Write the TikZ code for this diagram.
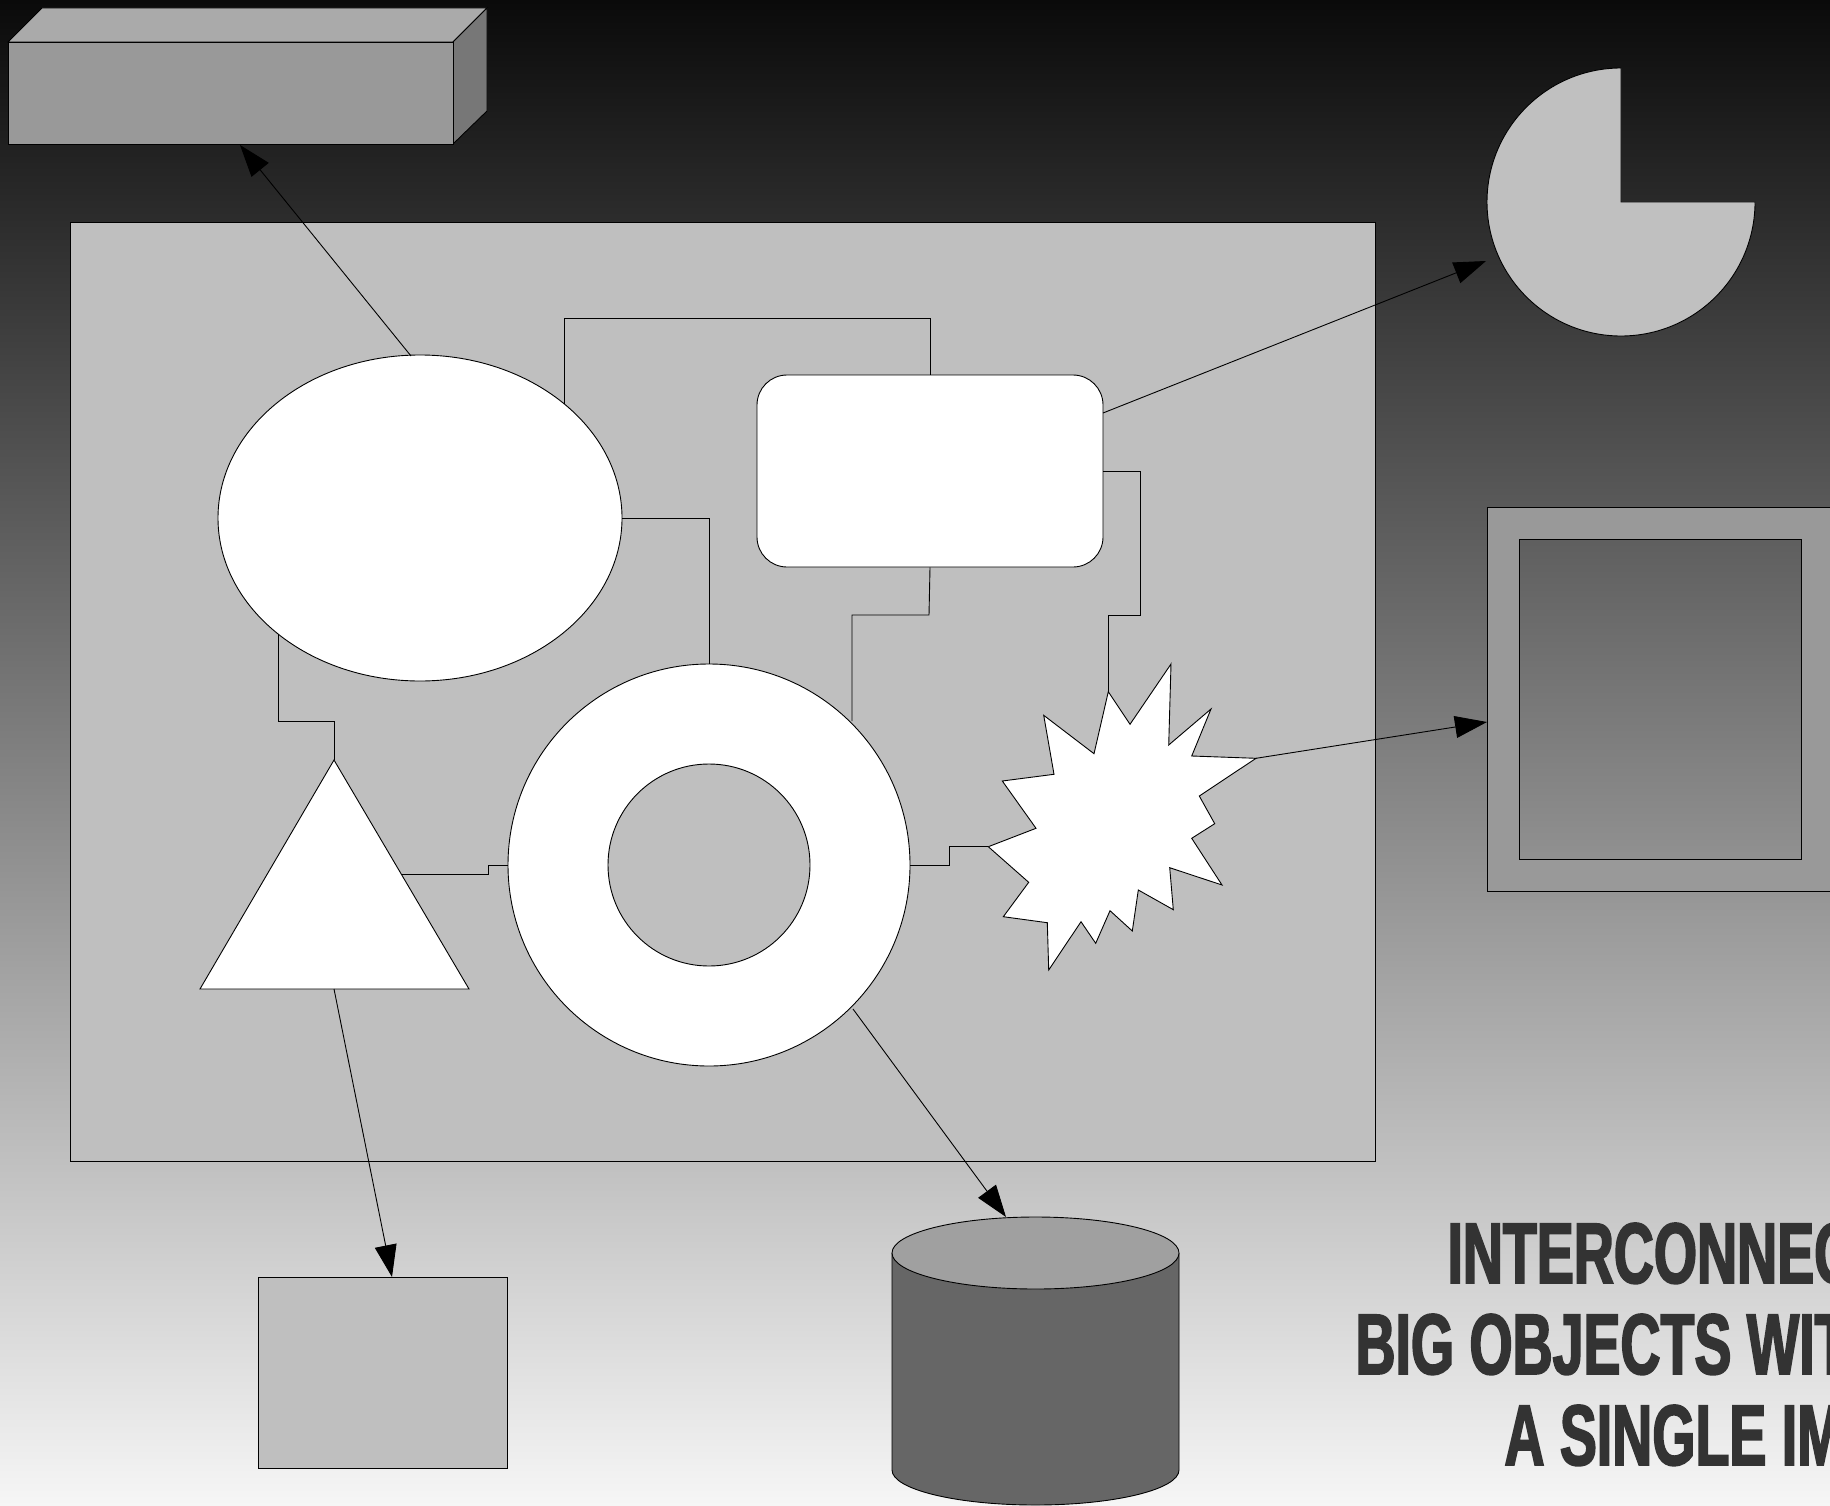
\documentclass[tikz,border=0pt]{standalone}
\usepackage{fontspec}
\usetikzlibrary{arrows.meta,shapes.geometric}
\newfontfamily\impactfont{Liberation Sans}[FakeStretch=0.645,FakeBold=2]
\definecolor{bgtop}{RGB}{10,10,10}
\definecolor{bgbot}{RGB}{246,246,246}
\definecolor{panel}{RGB}{191,191,191}
\definecolor{boxfront}{RGB}{153,153,153}
\definecolor{boxtop}{RGB}{170,170,170}
\definecolor{boxside}{RGB}{119,119,119}
\definecolor{piefill}{RGB}{192,192,192}
\definecolor{framefill}{RGB}{153,153,153}
\definecolor{cyltop}{RGB}{160,160,160}
\definecolor{cylbody}{RGB}{102,102,102}
\definecolor{textdark}{RGB}{51,51,51}
\begin{document}
\begin{tikzpicture}[x=1pt,y=-1pt,line width=0.9pt,
  shapeline/.style={draw=black,line width=0.9pt},
  wire/.style={draw=black,line width=0.9pt},
  arrowwire/.style={draw=black,line width=0.9pt,-{Triangle[length=32pt,width=22pt]}},
  headline/.style={anchor=base west,inner sep=0pt,text=textdark,font=\impactfont\bfseries\fontsize{86}{91}\selectfont}]
\useasboundingbox (0,0) rectangle (1830,1506);
\shade[top color=bgtop,bottom color=bgbot] (0,0) rectangle (1830,1506);

% 3D box
\draw[shapeline,fill=boxtop] (8,42) -- (42,8) -- (487,8) -- (453,42) -- cycle;
\draw[shapeline,fill=boxside] (453,42) -- (487,8) -- (487,111) -- (453,144) -- cycle;
\node[shapeline,fill=boxfront,minimum width=445pt,minimum height=102pt,inner sep=0pt] (box3d) at (230.5,93) {};

% pie
\draw[shapeline,fill=piefill] (1621,202) coordinate (piec) -- ++(134,0) arc[start angle=0,end angle=270,radius=134] -- cycle;
\coordinate (pieIn) at (1486,261);

% frame
\draw[shapeline,fill=framefill,even odd rule] (1487,507) rectangle (1833,891) (1519,539) rectangle (1801,859);
\coordinate (frameIn) at (1487,722);

% main panel
\node[shapeline,fill=panel,minimum width=1305pt,minimum height=939pt,inner sep=0pt] (panel) at (722.5,691.5) {};

% shapes inside the panel
\node[shapeline,fill=white,ellipse,minimum width=404pt,minimum height=326pt,inner sep=0pt] (el) at (420,518) {};
\node[shapeline,fill=white,rounded corners=30pt,minimum width=346pt,minimum height=192pt,inner sep=0pt] (rr) at (930,471) {};
\node[shapeline,fill=white,circle,minimum size=402pt,inner sep=0pt] (ring) at (709,865) {};
\node[shapeline,fill=panel,circle,minimum size=202pt,inner sep=0pt] (hole) at (709,865) {};
\draw[shapeline,fill=white] (334,760) coordinate (tritop) -- (469,989) -- (200,989) -- cycle;
\coordinate (tribot) at (334,989);
\coordinate (triside) at (401,874);
\draw[shapeline,fill=white]
  (1108.3,691.7) coordinate (bursttop) -- (1130,724.3) -- (1171,664) -- (1168.7,745) -- (1211,709) -- (1191.7,756)
  -- (1256,758.3) coordinate (burstright) -- (1199.3,796) -- (1214.7,823.7) -- (1191.7,838.3) -- (1222,885)
  -- (1169.7,867.7) -- (1173.3,909.7) -- (1138.3,890) -- (1132.3,931) -- (1110,910.7) -- (1095.7,943.3)
  -- (1081,921.7) -- (1048.7,970) -- (1047.3,922.7) -- (1003.3,916.7) -- (1028.7,882.3)
  -- (988.3,846.7) coordinate (burstleft) -- (1036,828.3) -- (1002.3,781) -- (1054,774.3) -- (1043.7,715.3)
  -- (1094,753.7) -- cycle;

% bottom shapes
\node[shapeline,fill=panel,minimum width=249pt,minimum height=191pt,inner sep=0pt] (rectb) at (382.5,1372.5) {};
\draw[shapeline,fill=cylbody] (892,1253) -- (892,1470) arc[start angle=180,end angle=0,x radius=143.5,y radius=35] -- (1179,1253);
\node[shapeline,fill=cyltop,ellipse,minimum width=287pt,minimum height=72pt,inner sep=0pt] (cyl) at (1035.5,1253) {};

% elbow connectors
\coordinate (elA) at (564,404);
\coordinate (elB) at (278,634);
\coordinate (ringNE) at (852,721);
\draw[wire] (elA) -- (564,318) -| (rr.north);
\draw[wire] (el.east) -| (ring.north);
\draw[wire] (elB) -- (278,721) -| (tritop);
\draw[wire] (triside) -- (488,874) -- (488,865) -- (ring.west);
\draw[wire] (rr.south) -- (929,615) -| (ringNE);
\draw[wire] (rr.east) -| (1140,615) -| (bursttop);
\draw[wire] (ring.east) -- (949,865) -- (949,846.7) -- (burstleft);

% arrows
\coordinate (elTop) at (411,356);
\coordinate (boxIn) at (240,145);
\coordinate (rrOut) at (1103,413);
\coordinate (ringOut) at (853,1009);
\coordinate (cylIn) at (1006,1217);
\coordinate (rectIn) at (392,1277);
\draw[arrowwire] (elTop) -- (boxIn);
\draw[arrowwire] (rrOut) -- (pieIn);
\draw[arrowwire] (burstright) -- (frameIn);
\draw[arrowwire] (tribot) -- (rectIn);
\draw[arrowwire] (ringOut) -- (cylIn);

% headline
\node[headline] (h1) at (1447,1283) {INTERCONNEC};
\node[headline] (h2) at (1355,1374) {BIG OBJECTS WIT};
\node[headline] (h3) at (1504,1465) {A SINGLE IM};
\end{tikzpicture}
\end{document}
